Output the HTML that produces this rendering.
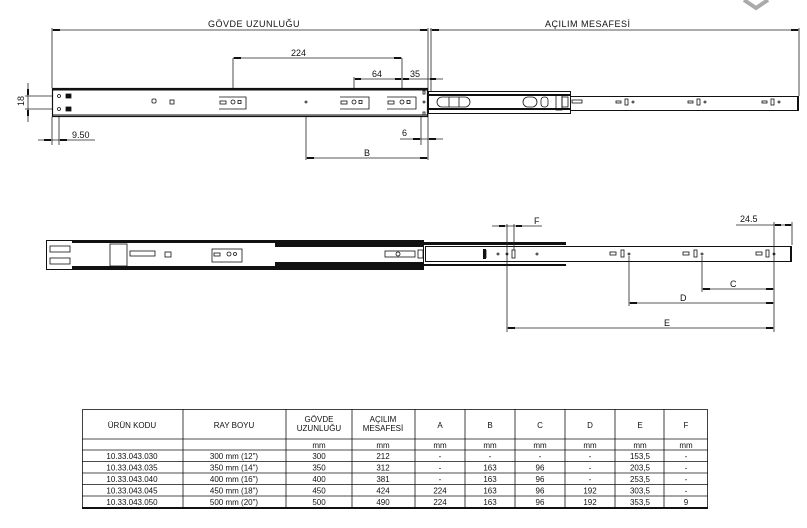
<!DOCTYPE html>
<html><head><meta charset="utf-8"><style>
html,body{margin:0;padding:0;background:#fff}
svg{display:block}
text{font-family:"Liberation Sans",sans-serif;fill:#111}
</style></head><body>
<svg width="807" height="528" viewBox="0 0 807 528" xmlns="http://www.w3.org/2000/svg">
<!-- corner icon -->
<path d="M744 0 L756 8 L768 0" fill="none" stroke="#aaa" stroke-width="4"/>

<!-- ===== TOP VIEW ===== -->
<g stroke="#222" stroke-width="0.8" fill="none">
 <!-- dimension lines -->
 <line x1="52" y1="30" x2="428" y2="30"/>
 <line x1="430" y1="30" x2="799" y2="30"/>
 <line x1="52" y1="28" x2="52" y2="88"/>
 <line x1="428" y1="28" x2="428" y2="160"/>
 <line x1="431" y1="28" x2="431" y2="92"/>
 <line x1="799" y1="28" x2="799" y2="96"/>
 <line x1="233" y1="58" x2="402" y2="58"/>
 <line x1="233" y1="58" x2="233" y2="102"/>
 <line x1="402" y1="58" x2="402" y2="102"/>
 <line x1="354" y1="79" x2="443" y2="79"/>
 <line x1="354" y1="77" x2="354" y2="102"/>
 <line x1="28" y1="83" x2="28" y2="122"/>
 <line x1="25" y1="96" x2="58" y2="96"/>
 <line x1="25" y1="109" x2="58" y2="109"/>
 <line x1="52" y1="117" x2="52" y2="145"/>
 <line x1="59" y1="109" x2="59" y2="145"/>
 <line x1="38" y1="140" x2="95" y2="140"/>
 <line x1="400" y1="139" x2="443" y2="139"/>
 <line x1="421" y1="100" x2="421" y2="145"/>
 <line x1="306" y1="104" x2="306" y2="160"/>
 <line x1="306" y1="158" x2="428" y2="158"/>
</g>
<g fill="#111">
 <rect x="53" y="29" width="7" height="2"/><rect x="420" y="29" width="7" height="2"/>
 <rect x="432" y="29" width="7" height="2"/><rect x="791" y="29" width="7" height="2"/>
 <rect x="234" y="57" width="7" height="2"/><rect x="394" y="57" width="7" height="2"/>
 <rect x="355" y="78" width="6" height="2"/><rect x="395" y="78" width="6" height="2"/>
 <rect x="403" y="78" width="6" height="2"/><rect x="430" y="78" width="6" height="2"/>
 <rect x="27" y="89" width="2" height="6"/><rect x="27" y="110" width="2" height="6"/>
 <rect x="44" y="139" width="7" height="2"/><rect x="60" y="139" width="7" height="2"/>
 <rect x="413" y="138" width="7" height="2"/><rect x="429" y="138" width="7" height="2"/>
 <rect x="307" y="157" width="7" height="2"/><rect x="420" y="157" width="7" height="2"/>
</g>
<g font-size="9">
 <text x="208" y="27" letter-spacing="0.5">GÖVDE UZUNLUĞU</text>
 <text x="545" y="27" letter-spacing="0.5">AÇILIM MESAFESİ</text>
 <text x="291" y="56">224</text>
 <text x="372" y="77">64</text>
 <text x="410" y="77">35</text>
 <text x="72" y="138">9.50</text>
 <text x="402" y="136">6</text>
 <text x="364" y="156">B</text>
 <text transform="translate(24,106) rotate(-90)">18</text>
</g>
<!-- rails top -->
<rect x="52.5" y="88.5" width="375" height="28" fill="#fff" stroke="#111" stroke-width="1.2"/>
<rect x="52" y="88" width="376" height="2.5" fill="#111"/>
<line x1="53" y1="115" x2="427" y2="115" stroke="#111"/>
<rect x="428.5" y="91.5" width="142" height="22" fill="#fff" stroke="#111"/>
<rect x="428" y="94" width="143" height="2" fill="#111"/>
<rect x="428" y="108" width="143" height="2" fill="#111"/>
<rect x="570.5" y="96.5" width="228" height="14" fill="#fff" stroke="#111"/>
<rect x="797" y="96" width="2" height="15" fill="#111"/>
<g stroke="#111" fill="none" stroke-width="0.8">
 <circle cx="59" cy="96" r="1.5"/><circle cx="59" cy="109" r="1.5"/>
 <rect x="66" y="94" width="5" height="4" fill="#111"/><rect x="66" y="107" width="5" height="4" fill="#111"/>
 <rect x="152" y="99" width="4" height="4" rx="1"/><rect x="170" y="100" width="4" height="4"/>
 <path d="M219 97 h27 v12 h-27"/><rect x="220" y="101" width="6" height="3"/><circle cx="233" cy="102" r="2"/><rect x="238" y="100.5" width="3" height="3"/>
 <circle cx="306" cy="102" r="1"/>
 <path d="M340 97 h29 v12 h-29"/><rect x="341" y="101" width="6" height="3"/><circle cx="354" cy="102" r="2"/><rect x="359" y="100.5" width="3" height="3"/>
 <path d="M387 97 h29 v12 h-29"/><rect x="388" y="101" width="6" height="3"/><circle cx="402" cy="102" r="2"/><rect x="407" y="100.5" width="3" height="3"/>
 <rect x="423" y="91" width="2" height="3"/><rect x="423" y="112" width="2" height="3"/><circle cx="424" cy="102" r="1"/>
 <rect x="437" y="97" width="33" height="10" rx="5"/><line x1="449" y1="97" x2="449" y2="107"/><line x1="459" y1="97" x2="459" y2="107"/>
 <rect x="523" y="97" width="14" height="10" rx="5"/><rect x="541" y="97" width="7" height="10" rx="3"/>
 <rect x="556" y="95" width="6" height="15"/><rect x="562" y="97" width="6" height="10"/>
 <rect x="572" y="100" width="10" height="3"/>
 <rect x="616" y="101" width="5" height="2"/><rect x="625" y="99" width="3" height="6"/><circle cx="633" cy="102" r="1"/>
 <rect x="688" y="101" width="5" height="2"/><rect x="697" y="99" width="3" height="6"/><circle cx="705" cy="102" r="1"/>
 <rect x="762" y="101" width="5" height="2"/><rect x="771" y="99" width="3" height="6"/><circle cx="779" cy="102" r="1"/>
</g>

<!-- ===== BOTTOM VIEW ===== -->
<rect x="46.5" y="240.5" width="377" height="29" fill="#fff" stroke="#111"/>
<rect x="72" y="240" width="352" height="3" fill="#111"/>
<rect x="72" y="266" width="352" height="3" fill="#111"/>
<rect x="275" y="243" width="148" height="4" fill="#111"/>
<rect x="275" y="262" width="148" height="4" fill="#111"/>
<rect x="424" y="242" width="142" height="3" fill="#111"/>
<rect x="424" y="264" width="142" height="2" fill="#111"/>
<rect x="425.5" y="246.5" width="366" height="15" fill="#fff" stroke="#111"/>
<rect x="790" y="246" width="2" height="16" fill="#111"/>
<g stroke="#111" fill="none" stroke-width="0.8">
 <rect x="50" y="246" width="20" height="6"/><rect x="50" y="258" width="20" height="6"/>
 <rect x="110" y="244" width="17" height="22"/>
 <rect x="130" y="251" width="25" height="5"/><rect x="165" y="252" width="6" height="5"/>
 <rect x="212" y="249" width="30" height="13"/><rect x="214" y="253" width="6" height="3"/><circle cx="229" cy="254" r="2"/><circle cx="235" cy="254" r="1.5"/>
 <rect x="385" y="251" width="30" height="6"/><circle cx="398" cy="254" r="2"/><rect x="418" y="250" width="5" height="8"/>
 <path d="M486 250 v8"/><circle cx="498" cy="254" r="1"/><circle cx="507" cy="254" r="1"/><rect x="512" y="250" width="3" height="8"/><circle cx="537" cy="254" r="1"/>
 <rect x="610" y="252" width="6" height="3"/><rect x="621" y="250" width="3" height="7"/><circle cx="629" cy="254" r="1"/>
 <rect x="683" y="252" width="6" height="3"/><rect x="694" y="250" width="3" height="7"/><circle cx="702" cy="254" r="1"/>
 <rect x="756" y="252" width="6" height="3"/><rect x="766" y="250" width="3" height="7"/><circle cx="774" cy="254" r="1"/>
</g>
<rect x="483" y="249" width="3" height="10" fill="#111"/>
<g stroke="#222" stroke-width="0.8">
 <line x1="507" y1="224" x2="507" y2="332"/>
 <line x1="514" y1="224" x2="514" y2="250"/>
 <line x1="492" y1="226" x2="542" y2="226"/>
 <line x1="736" y1="225" x2="792" y2="225"/>
 <line x1="774" y1="222" x2="774" y2="332"/>
 <line x1="792" y1="222" x2="792" y2="245"/>
 <line x1="702" y1="256" x2="702" y2="292"/>
 <line x1="702" y1="289" x2="774" y2="289"/>
 <line x1="629" y1="256" x2="629" y2="306"/>
 <line x1="629" y1="303" x2="774" y2="303"/>
 <line x1="507" y1="328" x2="774" y2="328"/>
</g>
<g fill="#111">
 <rect x="499" y="225" width="6" height="2"/><rect x="516" y="225" width="6" height="2"/>
 <rect x="775" y="224" width="6" height="2"/><rect x="785" y="224" width="6" height="2"/>
 <rect x="703" y="288" width="7" height="2"/><rect x="766" y="288" width="7" height="2"/>
 <rect x="630" y="302" width="7" height="2"/><rect x="766" y="302" width="7" height="2"/>
 <rect x="508" y="327" width="7" height="2"/><rect x="766" y="327" width="7" height="2"/>
</g>
<g font-size="9">
 <text x="534" y="224">F</text>
 <text x="740" y="222">24.5</text>
 <text x="730" y="287">C</text>
 <text x="680" y="301">D</text>
 <text x="664" y="326">E</text>
</g>

<!-- ===== TABLE ===== -->
<g stroke="#111" stroke-width="0.8" fill="none">
 <rect x="82.5" y="409.5" width="625" height="98"/>
 <line x1="82" y1="508" x2="708" y2="508" stroke-width="2"/>
 <line x1="82" y1="439" x2="708" y2="439"/>
 <line x1="82" y1="450" x2="708" y2="450"/>
 <line x1="82" y1="461.5" x2="708" y2="461.5"/>
 <line x1="82" y1="473" x2="708" y2="473"/>
 <line x1="82" y1="484.5" x2="708" y2="484.5"/>
 <line x1="82" y1="496" x2="708" y2="496"/>
 <line x1="183" y1="409" x2="183" y2="508"/>
 <line x1="286" y1="409" x2="286" y2="508"/>
 <line x1="352" y1="409" x2="352" y2="508"/>
 <line x1="415" y1="409" x2="415" y2="508"/>
 <line x1="465" y1="409" x2="465" y2="508"/>
 <line x1="515" y1="409" x2="515" y2="508"/>
 <line x1="565" y1="409" x2="565" y2="508"/>
 <line x1="615" y1="409" x2="615" y2="508"/>
 <line x1="664" y1="409" x2="664" y2="508"/>
</g>
<g font-size="8" text-anchor="middle">
 <text x="132" y="428">ÜRÜN KODU</text>
 <text x="234" y="428">RAY BOYU</text>
 <text x="319" y="422">GÖVDE</text><text x="319" y="431">UZUNLUĞU</text>
 <text x="383" y="422">AÇILIM</text><text x="383" y="431">MESAFESİ</text>
 <text x="440" y="428">A</text><text x="490" y="428">B</text><text x="540" y="428">C</text>
 <text x="590" y="428">D</text><text x="640" y="428">E</text><text x="686" y="428">F</text>
 <text x="319" y="448">mm</text><text x="383" y="448">mm</text><text x="440" y="448">mm</text>
 <text x="490" y="448">mm</text><text x="540" y="448">mm</text><text x="590" y="448">mm</text>
 <text x="640" y="448">mm</text><text x="686" y="448">mm</text>
 <text x="132" y="459">10.33.043.030</text><text x="234" y="459">300 mm (12")</text><text x="319" y="459">300</text><text x="383" y="459">212</text><text x="440" y="459">-</text><text x="490" y="459">-</text><text x="540" y="459">-</text><text x="590" y="459">-</text><text x="640" y="459">153,5</text><text x="686" y="459">-</text>
 <text x="132" y="470.5">10.33.043.035</text><text x="234" y="470.5">350 mm (14")</text><text x="319" y="470.5">350</text><text x="383" y="470.5">312</text><text x="440" y="470.5">-</text><text x="490" y="470.5">163</text><text x="540" y="470.5">96</text><text x="590" y="470.5">-</text><text x="640" y="470.5">203,5</text><text x="686" y="470.5">-</text>
 <text x="132" y="482">10.33.043.040</text><text x="234" y="482">400 mm (16")</text><text x="319" y="482">400</text><text x="383" y="482">381</text><text x="440" y="482">-</text><text x="490" y="482">163</text><text x="540" y="482">96</text><text x="590" y="482">-</text><text x="640" y="482">253,5</text><text x="686" y="482">-</text>
 <text x="132" y="493.5">10.33.043.045</text><text x="234" y="493.5">450 mm (18")</text><text x="319" y="493.5">450</text><text x="383" y="493.5">424</text><text x="440" y="493.5">224</text><text x="490" y="493.5">163</text><text x="540" y="493.5">96</text><text x="590" y="493.5">192</text><text x="640" y="493.5">303,5</text><text x="686" y="493.5">-</text>
 <text x="132" y="505">10.33.043.050</text><text x="234" y="505">500 mm (20")</text><text x="319" y="505">500</text><text x="383" y="505">490</text><text x="440" y="505">224</text><text x="490" y="505">163</text><text x="540" y="505">96</text><text x="590" y="505">192</text><text x="640" y="505">353,5</text><text x="686" y="505">9</text>
</g>
</svg>
</body></html>
